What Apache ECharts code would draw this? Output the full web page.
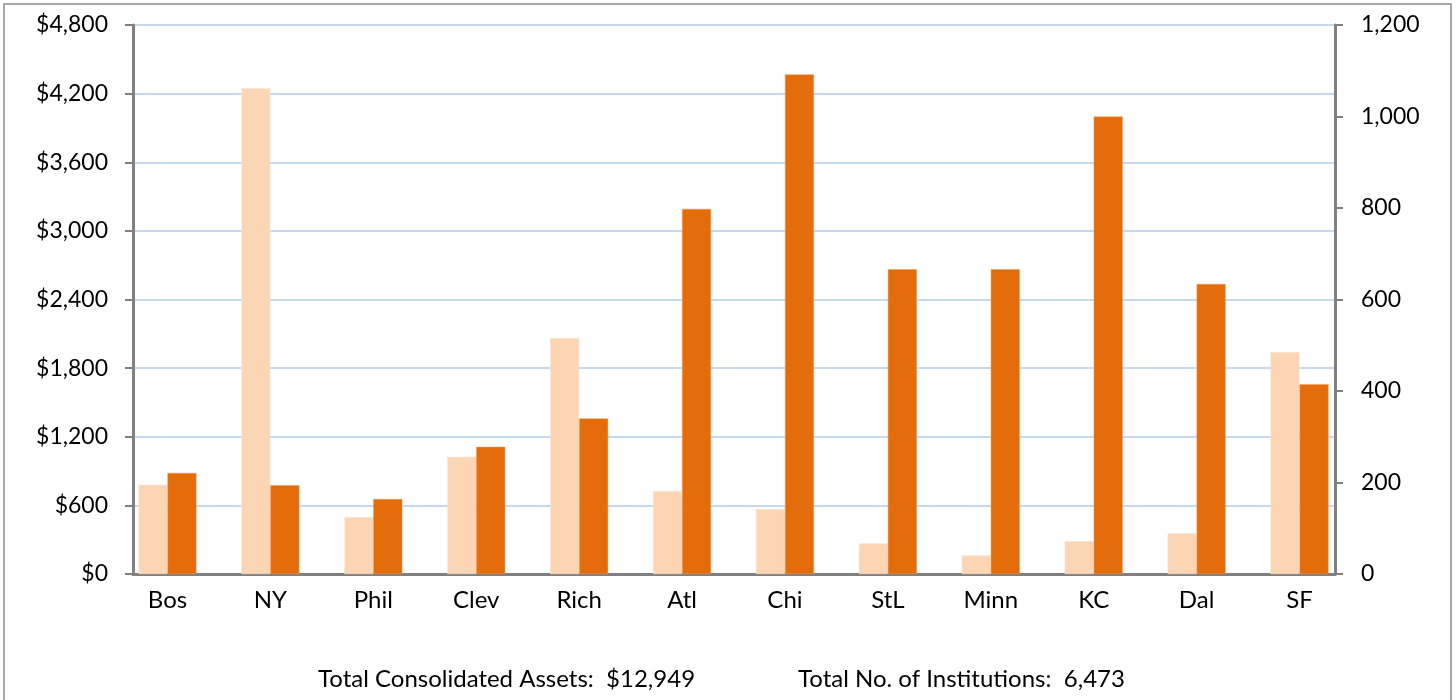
<!DOCTYPE html>
<html>
<head>
<meta charset="utf-8">
<script src="https://cdn.jsdelivr.net/npm/echarts@6/dist/echarts.min.js"></script>
<style>
  html, body { margin: 0; padding: 0; background: #fff; }
  #chart { width: 1456px; height: 700px; }
</style>
</head>
<body>
<div id="chart"></div>
<script>
var districts = ['Bos', 'NY', 'Phil', 'Clev', 'Rich', 'Atl', 'Chi', 'StL', 'Minn', 'KC', 'Dal', 'SF'];
// consolidated assets, $ billions (left axis)
var assets = [780, 4246, 498, 1025, 2063, 725, 568, 268, 163, 288, 356, 1940];
// number of institutions (right axis)
var institutions = [221, 194, 164, 278, 340, 798, 1092, 666, 666, 1000, 634, 415];
var footerAssets = 'Total Consolidated Assets:  $12,949';
var footerInst = 'Total No. of Institutions:  6,473';

var chartDom = document.getElementById('chart');
var myChart = echarts.init(chartDom);

var fontFam = 'Lato, "Open Sans", sans-serif';

// grid 0 carries the visible value axes + gridlines,
// grid 1 (a bit wider, like the Excel original) carries the bars and category labels
var option = {
  animation: false,
  grid: [
    { left: 133, right: 121, top: 25, bottom: 126 },
    { left: 116, right: 105, top: 25, bottom: 126 }
  ],
  graphic: [
    {
      type: 'rect',
      shape: { x: 4, y: 4, width: 1447, height: 720 },
      style: { fill: 'none', stroke: '#8c8c8c', lineWidth: 1.5 },
      silent: true
    },
    {
      type: 'text',
      left: 318,
      top: 667,
      style: { text: footerAssets, font: '24px ' + fontFam, fill: '#000' }
    },
    {
      type: 'text',
      left: 798,
      top: 667,
      style: { text: footerInst, font: '24px ' + fontFam, fill: '#000' }
    }
  ],
  xAxis: [
    {
      type: 'category',
      gridIndex: 0,
      data: districts,
      axisLine: { lineStyle: { color: '#808080', width: 3 } },
      axisTick: { show: false },
      axisLabel: { show: false }
    },
    {
      type: 'category',
      gridIndex: 1,
      data: districts,
      axisLine: { show: false },
      axisTick: { show: false },
      axisLabel: { color: '#000', fontSize: 24, fontFamily: fontFam, margin: 14 }
    }
  ],
  yAxis: [
    {
      type: 'value',
      gridIndex: 0,
      min: 0,
      max: 4800,
      interval: 600,
      axisLine: { show: true, lineStyle: { color: '#808080', width: 3 } },
      axisTick: { show: true, length: 8, lineStyle: { color: '#808080', width: 2 } },
      axisLabel: {
        color: '#000', fontSize: 23, fontFamily: fontFam, margin: 25,
        formatter: function (v) { return '$' + v.toLocaleString('en-US'); }
      },
      splitLine: { lineStyle: { color: '#C6D9F1', width: 2 } }
    },
    {
      type: 'value',
      gridIndex: 0,
      min: 0,
      max: 1200,
      interval: 200,
      position: 'right',
      axisLine: { show: true, lineStyle: { color: '#808080', width: 3 } },
      axisTick: { show: true, length: 8, lineStyle: { color: '#808080', width: 2 } },
      axisLabel: {
        color: '#000', fontSize: 23, fontFamily: fontFam, margin: 26,
        formatter: function (v) { return v.toLocaleString('en-US'); }
      },
      splitLine: { show: false }
    },
    { type: 'value', gridIndex: 1, min: 0, max: 4800, show: false },
    { type: 'value', gridIndex: 1, min: 0, max: 1200, show: false }
  ],
  series: [
    {
      name: 'Assets',
      type: 'bar',
      xAxisIndex: 1,
      yAxisIndex: 2,
      data: assets,
      barWidth: 29,
      barGap: '0%',
      itemStyle: { color: '#FCD5B5', borderColor: '#fde6d2', borderWidth: 0.5 }
    },
    {
      name: 'Institutions',
      type: 'bar',
      xAxisIndex: 1,
      yAxisIndex: 3,
      data: institutions,
      barWidth: 29,
      barGap: '0%',
      itemStyle: { color: '#E46C0A', borderColor: '#f09a5a', borderWidth: 0.5 }
    }
  ]
};

myChart.setOption(option);
</script>
</body>
</html>
